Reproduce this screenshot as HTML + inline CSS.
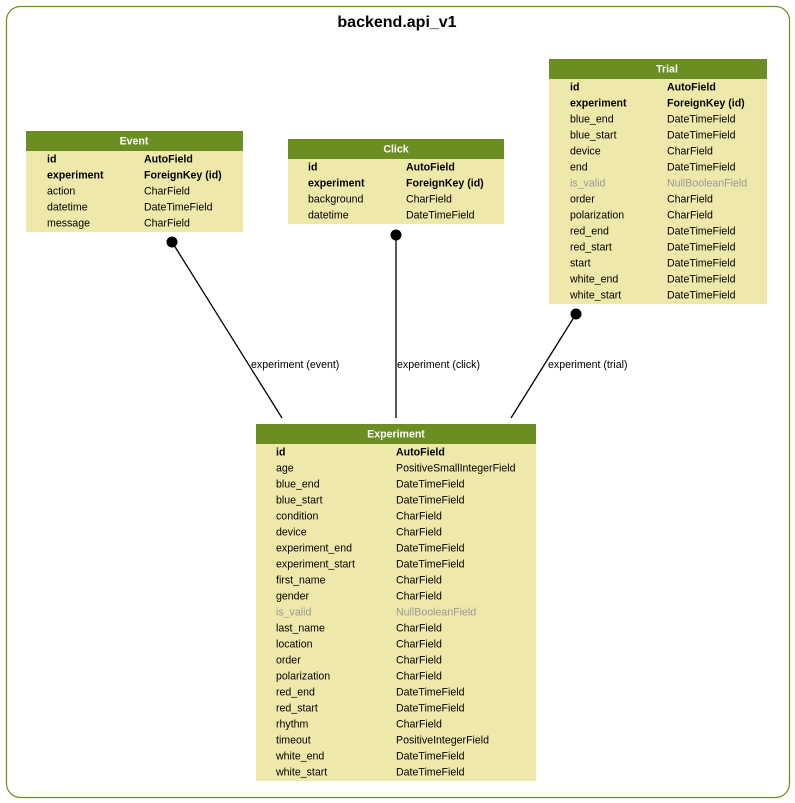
<!DOCTYPE html>
<html><head><meta charset="utf-8"><style>
html,body{margin:0;padding:0;background:#fff;}
svg{display:block;font-family:"Liberation Sans",Arial,sans-serif;}
.h{fill:#fff;font-weight:bold;font-size:10.6px;text-anchor:middle}
.t{font-size:10.6px;fill:#000}
.b{font-weight:bold}
.g{fill:#999}
</style></head><body>
<svg width="795" height="803" viewBox="0 0 795 803">
<rect x="6.5" y="6.5" width="783" height="791" rx="14" fill="#fff" stroke="#6b8e23" stroke-width="1.2"/>
<text x="397" y="27" text-anchor="middle" font-weight="bold" font-size="16">backend.api_v1</text>

<g stroke="#000" stroke-width="1.3">
<line x1="172" y1="242" x2="282" y2="418"/>
<line x1="396" y1="235" x2="396" y2="418"/>
<line x1="576" y1="314" x2="511" y2="418"/>
</g>
<circle cx="172" cy="242" r="5.5"/>
<circle cx="396" cy="235" r="5.5"/>
<circle cx="576" cy="314" r="5.5"/>
<text class="t" x="251" y="368">experiment (event)</text>
<text class="t" x="397" y="368">experiment (click)</text>
<text class="t" x="548" y="368">experiment (trial)</text>

<rect x="26" y="131" width="217" height="101" fill="#eee8aa"/>
<rect x="26" y="131" width="217" height="20" fill="#6b8e23"/>
<text class="h" x="134" y="144.5">Event</text>
<g class="t">
<text x="47" y="162.5" class="b">id</text><text x="144" y="162.5" class="b">AutoField</text>
<text x="47" y="178.5" class="b">experiment</text><text x="144" y="178.5" class="b">ForeignKey (id)</text>
<text x="47" y="194.5">action</text><text x="144" y="194.5">CharField</text>
<text x="47" y="210.5">datetime</text><text x="144" y="210.5">DateTimeField</text>
<text x="47" y="226.5">message</text><text x="144" y="226.5">CharField</text>
</g>

<rect x="288" y="139" width="216" height="85" fill="#eee8aa"/>
<rect x="288" y="139" width="216" height="20" fill="#6b8e23"/>
<text class="h" x="396" y="152.5">Click</text>
<g class="t">
<text x="308" y="170.5" class="b">id</text><text x="406" y="170.5" class="b">AutoField</text>
<text x="308" y="186.5" class="b">experiment</text><text x="406" y="186.5" class="b">ForeignKey (id)</text>
<text x="308" y="202.5">background</text><text x="406" y="202.5">CharField</text>
<text x="308" y="218.5">datetime</text><text x="406" y="218.5">DateTimeField</text>
</g>

<rect x="549" y="59" width="218" height="245" fill="#eee8aa"/>
<rect x="549" y="59" width="218" height="20" fill="#6b8e23"/>
<text class="h" x="667" y="72.5">Trial</text>
<g class="t">
<text x="570" y="90.5" class="b">id</text><text x="667" y="90.5" class="b">AutoField</text>
<text x="570" y="106.5" class="b">experiment</text><text x="667" y="106.5" class="b">ForeignKey (id)</text>
<text x="570" y="122.5">blue_end</text><text x="667" y="122.5">DateTimeField</text>
<text x="570" y="138.5">blue_start</text><text x="667" y="138.5">DateTimeField</text>
<text x="570" y="154.5">device</text><text x="667" y="154.5">CharField</text>
<text x="570" y="170.5">end</text><text x="667" y="170.5">DateTimeField</text>
<text x="570" y="186.5" class="g">is_valid</text><text x="667" y="186.5" class="g">NullBooleanField</text>
<text x="570" y="202.5">order</text><text x="667" y="202.5">CharField</text>
<text x="570" y="218.5">polarization</text><text x="667" y="218.5">CharField</text>
<text x="570" y="234.5">red_end</text><text x="667" y="234.5">DateTimeField</text>
<text x="570" y="250.5">red_start</text><text x="667" y="250.5">DateTimeField</text>
<text x="570" y="266.5">start</text><text x="667" y="266.5">DateTimeField</text>
<text x="570" y="282.5">white_end</text><text x="667" y="282.5">DateTimeField</text>
<text x="570" y="298.5">white_start</text><text x="667" y="298.5">DateTimeField</text>
</g>

<rect x="256" y="424" width="280" height="357" fill="#eee8aa"/>
<rect x="256" y="424" width="280" height="20" fill="#6b8e23"/>
<text class="h" x="396" y="437.5">Experiment</text>
<g class="t">
<text x="276" y="455.5" class="b">id</text><text x="396" y="455.5" class="b">AutoField</text>
<text x="276" y="471.5">age</text><text x="396" y="471.5">PositiveSmallIntegerField</text>
<text x="276" y="487.5">blue_end</text><text x="396" y="487.5">DateTimeField</text>
<text x="276" y="503.5">blue_start</text><text x="396" y="503.5">DateTimeField</text>
<text x="276" y="519.5">condition</text><text x="396" y="519.5">CharField</text>
<text x="276" y="535.5">device</text><text x="396" y="535.5">CharField</text>
<text x="276" y="551.5">experiment_end</text><text x="396" y="551.5">DateTimeField</text>
<text x="276" y="567.5">experiment_start</text><text x="396" y="567.5">DateTimeField</text>
<text x="276" y="583.5">first_name</text><text x="396" y="583.5">CharField</text>
<text x="276" y="599.5">gender</text><text x="396" y="599.5">CharField</text>
<text x="276" y="615.5" class="g">is_valid</text><text x="396" y="615.5" class="g">NullBooleanField</text>
<text x="276" y="631.5">last_name</text><text x="396" y="631.5">CharField</text>
<text x="276" y="647.5">location</text><text x="396" y="647.5">CharField</text>
<text x="276" y="663.5">order</text><text x="396" y="663.5">CharField</text>
<text x="276" y="679.5">polarization</text><text x="396" y="679.5">CharField</text>
<text x="276" y="695.5">red_end</text><text x="396" y="695.5">DateTimeField</text>
<text x="276" y="711.5">red_start</text><text x="396" y="711.5">DateTimeField</text>
<text x="276" y="727.5">rhythm</text><text x="396" y="727.5">CharField</text>
<text x="276" y="743.5">timeout</text><text x="396" y="743.5">PositiveIntegerField</text>
<text x="276" y="759.5">white_end</text><text x="396" y="759.5">DateTimeField</text>
<text x="276" y="775.5">white_start</text><text x="396" y="775.5">DateTimeField</text>
</g>
</svg>
</body></html>
